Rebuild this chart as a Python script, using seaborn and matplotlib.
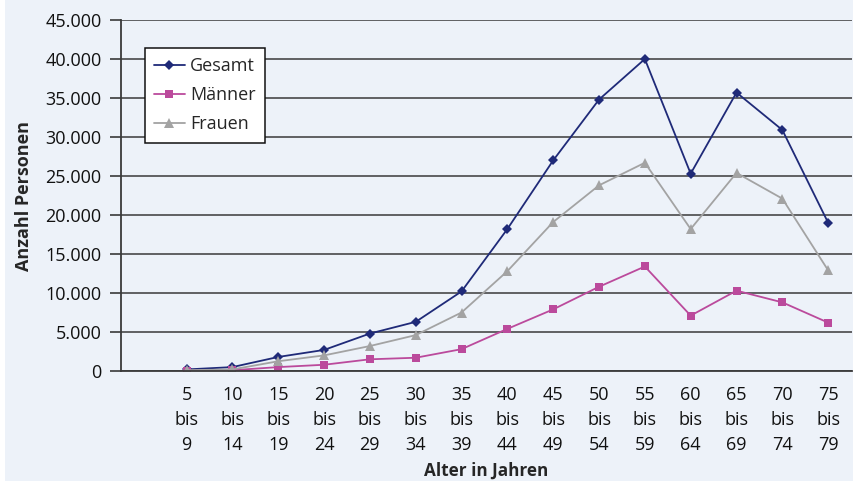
import matplotlib
matplotlib.use("Agg")
import matplotlib.pyplot as plt
from matplotlib.patches import Rectangle
from matplotlib.ticker import FixedLocator, FuncFormatter
import seaborn as sns
import pandas as pd

# Altersgruppen (Fünfjahresklassen)
age_from = [5, 10, 15, 20, 25, 30, 35, 40, 45, 50, 55, 60, 65, 70, 75]
age_to = [9, 14, 19, 24, 29, 34, 39, 44, 49, 54, 59, 64, 69, 74, 79]
categories = [f"{a}\nbis\n{b}" for a, b in zip(age_from, age_to)]

gesamt = [200, 500, 1800, 2700, 4800, 6300, 10200, 18200, 27000, 34800, 40000, 25300, 35700, 30900, 19000]
maenner = [50, 100, 500, 800, 1500, 1700, 2800, 5400, 7900, 10800, 13400, 7100, 10300, 8800, 6200]
frauen = [100, 200, 1250, 2000, 3200, 4600, 7500, 12800, 19100, 23800, 26700, 18200, 25400, 22100, 12900]

series_names = ["Gesamt", "Männer", "Frauen"]
series_values = [gesamt, maenner, frauen]

df = pd.concat(
    [pd.DataFrame({"pos": range(len(categories)), "Anzahl": vals, "Gruppe": name})
     for name, vals in zip(series_names, series_values)],
    ignore_index=True,
)

BG = "#edf2f9"
colors = {"Gesamt": "#1f2a78", "Männer": "#bb4a9c", "Frauen": "#a3a3a3"}
markers = {"Gesamt": "D", "Männer": "s", "Frauen": "^"}
msizes = {"Gesamt": 5.2, "Männer": 5.8, "Frauen": 6.8}

sns.set_theme(style="white")
plt.rcParams["font.family"] = ["Open Sans", "DejaVu Sans"]

fig = plt.figure(figsize=(8.54, 4.82), dpi=100)
fig.patch.set_facecolor("white")
fig.patches.append(Rectangle((5 / 854, 0.003), 1, 1, transform=fig.transFigure,
                             facecolor=BG, edgecolor="none", zorder=-10))

ax = fig.add_axes([121 / 854, 1 - 371 / 482, (852 - 121) / 854, (371 - 20) / 482])
ax.set_facecolor(BG)

sns.lineplot(data=df, x="pos", y="Anzahl", hue="Gruppe", style="Gruppe",
             palette=colors, markers=markers, dashes=False, sort=False,
             linewidth=1.3, markeredgewidth=0, ax=ax, legend=False)

for line, name in zip(ax.lines, series_names):
    line.set_markersize(msizes[name])

# Gitter und Achsen
ax.set_ylim(0, 45000)
ax.set_xlim(-1.43, len(categories) - 0.48)
ax.set_yticks(range(0, 45001, 5000))
ax.yaxis.set_major_formatter(FuncFormatter(lambda v, p: f"{int(v):,}".replace(",", ".")))
ax.grid(axis="y", color="#3a3a3a", linewidth=1.1)
ax.set_axisbelow(True)

ax.set_xticks(range(len(categories)))
ax.set_xticklabels(categories, linespacing=1.5)
ax.xaxis.set_minor_locator(FixedLocator([i - 0.5 for i in range(len(categories) + 1)]))
ax.tick_params(axis="x", which="major", length=0, pad=11, labelsize=13, colors="#111111")
ax.tick_params(axis="x", which="minor", length=7, width=1.2, color="#3a3a3a", direction="out")
ax.tick_params(axis="y", length=8, width=1.2, color="#3a3a3a", pad=6, labelsize=13,
               labelcolor="#111111", left=True)

for side in ["top", "right"]:
    ax.spines[side].set_visible(False)
for side in ["left", "bottom"]:
    ax.spines[side].set_color("#3a3a3a")
    ax.spines[side].set_linewidth(1.3)

ax.set_xlabel("Alter in Jahren", fontsize=12.3, fontweight="bold", labelpad=5)
ax.set_ylabel("Anzahl Personen", fontsize=13, fontweight="bold", labelpad=9)

# Legende
handles = [plt.Line2D([], [], color=colors[n], marker=markers[n], markersize=msizes[n],
                      markeredgewidth=0, linewidth=1.3) for n in series_names]
leg = ax.legend(handles, series_names, loc="upper left", bbox_to_anchor=(0.033, 0.92),
                fontsize=13, frameon=True, fancybox=False, handlelength=1.7,
                handletextpad=0.3, labelspacing=0.62, borderpad=0.5, borderaxespad=0)
leg.get_frame().set_edgecolor("#111111")
leg.get_frame().set_linewidth(1.1)
leg.get_frame().set_facecolor("white")
leg.get_frame().set_alpha(1)

fig.savefig("out.png", dpi=100, facecolor=fig.get_facecolor())
